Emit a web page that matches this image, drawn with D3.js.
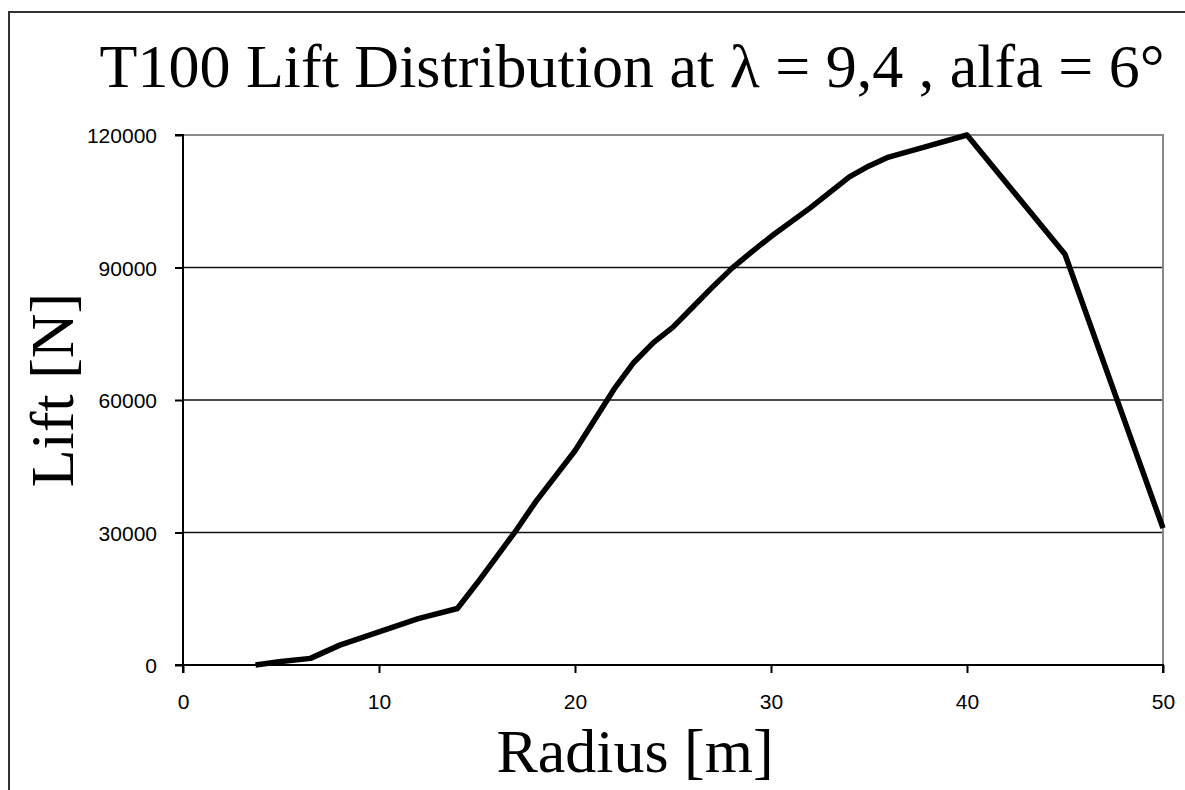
<!DOCTYPE html>
<html>
<head>
<meta charset="utf-8">
<script src="https://cdn.jsdelivr.net/npm/d3@7"></script>
<style>
  html, body { margin: 0; padding: 0; background: #fff; }
  svg { display: block; }
</style>
</head>
<body>
<svg id="chart" width="1185" height="790"></svg>
<script>
const radius = [3.7, 5, 6.5, 8, 10, 12, 14, 15, 16, 17, 18, 20, 22, 23, 24, 25, 26, 27, 28, 29, 30, 32, 34, 35, 36, 38, 40, 45, 50];
const lift   = [0, 800, 1500, 4500, 7500, 10500, 12800, 18500, 24500, 30500, 37000, 48500, 62500, 68500, 73000, 76500, 81000, 85500, 89800, 93500, 97000, 103500, 110500, 113000, 115000, 117500, 120000, 93000, 31000];
const xTicks = [0, 10, 20, 30, 40, 50];
const yTicks = [0, 30000, 60000, 90000, 120000];
const titleText = "T100 Lift Distribution at \u03BB = 9,4 , alfa = 6\u00B0";
const xTitle = "Radius [m]";
const yTitle = "Lift [N]";

const svg = d3.select("#chart");
svg.append("rect").attr("width", 1185).attr("height", 790).attr("fill", "#fff");

// outer frame (top and left visible)
svg.append("path").attr("d", "M9,790V12H1185").attr("fill", "none")
  .attr("stroke", "#333").attr("stroke-width", 2);

const x = d3.scaleLinear().domain([0, 50]).range([183, 1163]);
const y = d3.scaleLinear().domain([0, 120000]).range([665, 135]);

// gridlines
svg.append("g").selectAll("line").data(yTicks.filter(d => d > 0 && d < 120000)).join("line")
  .attr("x1", x(0)).attr("x2", x(50)).attr("y1", d => y(d)).attr("y2", d => y(d))
  .attr("stroke", "#111").attr("stroke-width", 1.6);

// plot area top/right border (gray)
svg.append("path").attr("d", `M${x(0)},${y(120000)}H${x(50)}V${y(0)}`)
  .attr("fill", "none").attr("stroke", "#8a8a8a").attr("stroke-width", 2);

// axes
const yAxis = d3.axisLeft(y).tickValues(yTicks).tickSize(8).tickFormat(d3.format("d"));
const xAxis = d3.axisBottom(x).tickValues(xTicks).tickSize(8).tickFormat(d3.format("d"));

const gy = svg.append("g").attr("transform", `translate(${x(0)},0)`).call(yAxis);
const gx = svg.append("g").attr("transform", `translate(0,${y(0)})`).call(xAxis);
[gy, gx].forEach(g => {
  g.select(".domain").attr("stroke", "#000").attr("stroke-width", 2);
  g.selectAll(".tick line").attr("stroke", "#000").attr("stroke-width", 2);
  g.selectAll(".tick text").attr("fill", "#000")
    .style("font-family", "'Liberation Sans', Arial, sans-serif").style("font-size", "21px");
});
gy.select(".domain").attr("d", `M-8,${y(120000)}H0V${y(0)}H-8`);
gx.select(".domain").attr("d", `M${x(0)},8V0H${x(50)}V8`);
gy.selectAll(".tick text").attr("x", -26).attr("dy", "0.36em");
gx.selectAll(".tick text").attr("y", 29).attr("dy", "0.71em");

// data line
const line = d3.line().x((d, i) => x(radius[i])).y(d => y(d));
svg.append("path").datum(lift).attr("d", line)
  .attr("fill", "none").attr("stroke", "#000").attr("stroke-width", 5.5)
  .attr("stroke-linejoin", "round").attr("stroke-linecap", "butt");

// titles
const serif = "'Liberation Serif', 'Times New Roman', serif";
svg.append("text").attr("x", 632).attr("y", 87).attr("text-anchor", "middle")
  .style("font-family", serif).style("font-size", "62px").attr("fill", "#000").text(titleText);
svg.append("text").attr("x", 635).attr("y", 772).attr("text-anchor", "middle")
  .style("font-family", serif).style("font-size", "62px").attr("fill", "#000").text(xTitle);
svg.append("text").attr("transform", "translate(73,390) rotate(-90)").attr("text-anchor", "middle")
  .style("font-family", serif).style("font-size", "62px").attr("fill", "#000").text(yTitle);
</script>
</body>
</html>
